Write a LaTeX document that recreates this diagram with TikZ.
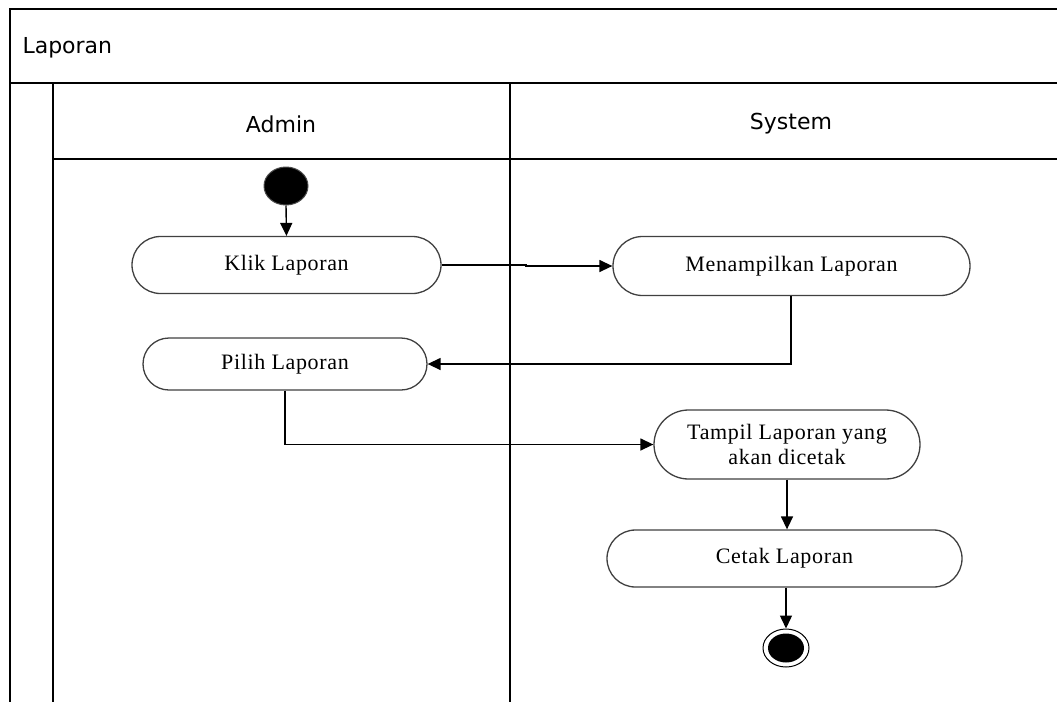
\documentclass[tikz,border=0pt]{standalone}
\usepackage{fontspec}
\setmainfont{Liberation Serif}
\newfontfamily\lanefont{DejaVu Sans}
\newfontfamily\actfont[LetterSpace=3]{Liberation Serif}
\usetikzlibrary{arrows.meta,shapes.misc,shapes.geometric}
\begin{document}
\begin{tikzpicture}[x=1pt,y=-1pt,
  frame/.style={line width=2pt,black},
  act/.style={rounded rectangle,draw=black!75,line width=1.3pt,fill=white,
    inner sep=0pt,font=\actfont\fontsize{22}{25}\selectfont,align=center},
  flow/.style={line width=1.4pt,-{Triangle[length=13pt,width=12pt]}},
  lanetitle/.style={font=\lanefont\fontsize{22}{25}\selectfont}]
\useasboundingbox (0,0) rectangle (1057,702);
% swimlane frame
\draw[frame] (1057,9) -- (10,9) -- (10,702);
\draw[frame] (10,83) -- (1057,83);
\draw[frame] (53,83) -- (53,702);
\draw[frame] (53,159) -- (1057,159);
\draw[frame] (510,83) -- (510,702);
\node[lanetitle,anchor=west] (title) at (19,48) {Laporan};
\node[lanetitle] (admin) at (281,124) {Admin};
\node[lanetitle] (system) at (791,124) {System};
% activities
\node[ellipse,fill=black,draw=black!70,line width=1pt,minimum width=44pt,minimum height=38pt,inner sep=0pt] (start) at (286,186) {};
\node[act,minimum width=309pt,minimum height=57pt] (klik) at (286.5,265) {Klik Laporan};
\node[act,minimum width=357pt,minimum height=59pt] (tampilkan) at (791.5,266) {Menampilkan Laporan};
\node[act,minimum width=284pt,minimum height=52pt] (pilih) at (285,364) {Pilih Laporan};
\node[act,minimum width=266pt,minimum height=69pt] (tampil) at (787,444.5) {Tampil Laporan yang\\akan dicetak};
\node[act,minimum width=355pt,minimum height=57pt] (cetak) at (784.5,558.5) {Cetak Laporan};
\node[ellipse,draw=black,line width=1pt,minimum width=46pt,minimum height=38pt,inner sep=0pt] (end) at (786,648) {};
\node[ellipse,fill=black,minimum width=36pt,minimum height=29pt,inner sep=0pt] (endcore) at (end.center) {};
% control flow
\draw[flow] (start.south) -- (klik.north);
\draw[flow] (klik.east) -- (526,265) -- (526,266) -- (tampilkan.west);
\draw[flow] (tampilkan.south -| 791,0) |- (pilih.east);
\draw[flow] (pilih.south) |- (tampil.west);
\draw[flow] (tampil.south) -- (tampil.south |- cetak.north);
\draw[flow] (cetak.south -| end.north) -- (end.north);
\end{tikzpicture}
\end{document}
